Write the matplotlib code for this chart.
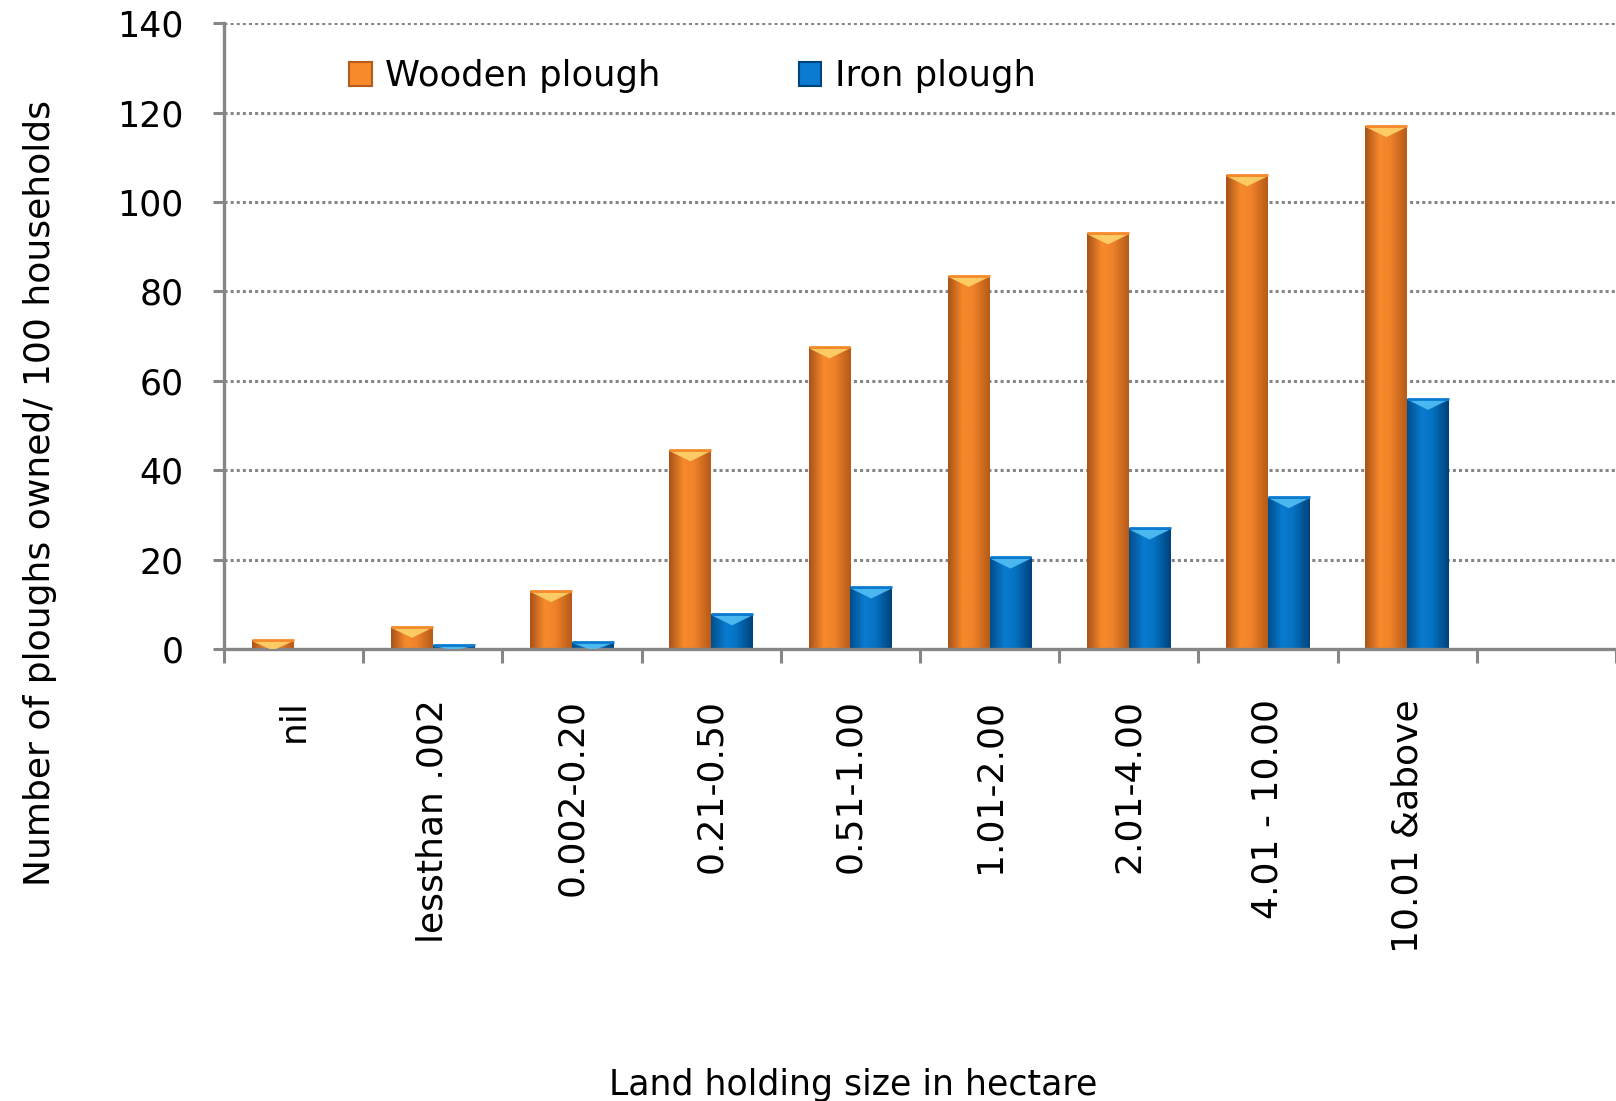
import numpy as np
import matplotlib
matplotlib.use("Agg")
import matplotlib.pyplot as plt
from matplotlib.patches import Patch

categories = ["nil", "lessthan .002", "0.002-0.20", "0.21-0.50", "0.51-1.00",
              "1.01-2.00", "2.01-4.00", "4.01 - 10.00", "10.01 &above"]
wooden = [2, 5, 13, 44.5, 67.5, 83.5, 93, 106, 117]
iron = [0, 1, 1.6, 7.8, 13.8, 20.5, 27, 34, 56]

ORANGE = ["#a9531a", "#f78a2a", "#f0832a", "#b65b18"]
BLUE = ["#004f8c", "#0a7bd0", "#0573c4", "#00427a"]
ORANGE_TOP = "#ffd36b"
BLUE_TOP = "#52bff5"

plt.rcParams["font.family"] = ["DejaVu Sans"]

fig = plt.figure(figsize=(16.16, 11.01), dpi=100)
ax = fig.add_axes([0.1386, 0.4105, 0.8614, 0.5685])

x = np.arange(len(categories))
w = 0.3


def shade_bars(bars, stops, top_color):
    # horizontal gradient clipped to each bar, plus a light cap on top
    cmap = matplotlib.colors.LinearSegmentedColormap.from_list(
        "g", list(zip([0, 0.35, 0.6, 1.0], stops)))
    grad = np.linspace(0, 1, 64).reshape(1, -1)
    for b in bars:
        x0, y0 = b.get_x(), b.get_y()
        bw, bh = b.get_width(), b.get_height()
        if bh <= 0:
            continue
        b.set_facecolor("none")
        im = ax.imshow(grad, cmap=cmap, aspect="auto",
                       extent=[x0, x0 + bw, y0, y0 + bh], zorder=2.5,
                       interpolation="bicubic")
        im.set_clip_path(b)
        cap = min(bh, 2.2)
        ax.fill([x0 + 0.02 * bw, x0 + 0.98 * bw, x0 + 0.5 * bw],
                [y0 + bh - 0.3, y0 + bh - 0.3, y0 + bh - cap - 0.3],
                color=top_color, zorder=2.6, lw=0, alpha=0.9)
        ax.plot([x0, x0 + bw], [y0 + bh, y0 + bh], color=stops[1],
                lw=2, zorder=2.7, solid_capstyle="butt")


b1 = ax.bar(x - w / 2, wooden, w, color=ORANGE[1], edgecolor="none", zorder=2)
b2 = ax.bar(x + w / 2, iron, w, color=BLUE[1], edgecolor="none", zorder=2)
shade_bars(b1, ORANGE, ORANGE_TOP)
shade_bars(b2, BLUE, BLUE_TOP)

ax.set_xlim(-0.5, 9.5)
ax.set_ylim(0, 140)
ax.set_yticks(np.arange(0, 141, 20))
ax.set_xticks(x)
ax.set_xticklabels(categories, rotation=90, fontsize=26, va="top", ha="center")
ax.set_xticks(np.arange(-0.5, 9.6, 1), minor=True)
ax.tick_params(axis="x", which="major", length=0, pad=36)
ax.tick_params(axis="x", which="minor", length=10, width=2.2,
               color="#868686", direction="out")
ax.tick_params(axis="y", length=8, width=2.2, color="#868686",
               labelsize=25, pad=21)

ax.yaxis.grid(True, linestyle=(0, (1, 1)), linewidth=2.2, color="#868686")
ax.set_axisbelow(True)
for s in ["top", "right"]:
    ax.spines[s].set_visible(False)
for s in ["left", "bottom"]:
    ax.spines[s].set_color("#868686")
    ax.spines[s].set_linewidth(2.4)

ax.set_ylabel("Number of ploughs owned/ 100 households", fontsize=26)
ax.yaxis.set_label_coords(-0.12, 0.249)
fig.text(0.528, 0.0055, "Land holding size in hectare", fontsize=25,
         ha="center", va="baseline")

handles = [Patch(facecolor=ORANGE[1], edgecolor=ORANGE[3], lw=1.5),
           Patch(facecolor=BLUE[1], edgecolor=BLUE[3], lw=1.5)]
ax.legend(handles, ["Wooden plough", "Iron plough"], ncol=2, frameon=False,
          fontsize=25.5, loc="upper left", bbox_to_anchor=(0.067, 0.993),
          handlelength=0.64, handleheight=0.64, columnspacing=3.9,
          handletextpad=0.38)

fig.savefig("out.png", dpi=100)
